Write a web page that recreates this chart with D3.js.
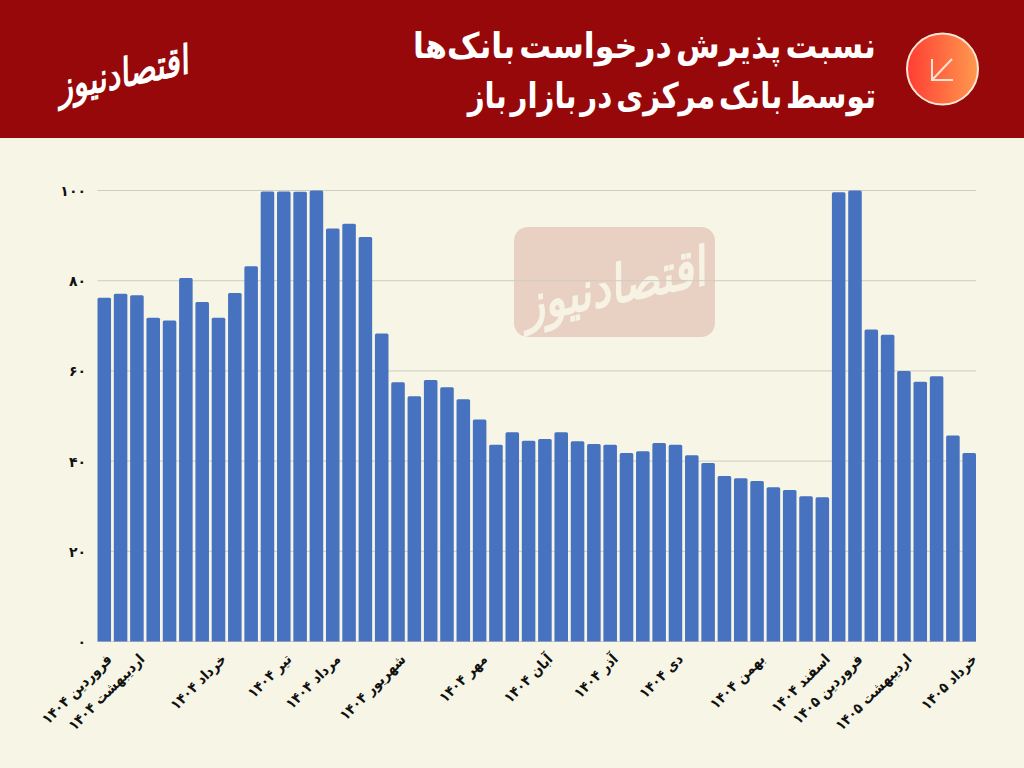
<!DOCTYPE html>
<html lang="fa"><head><meta charset="utf-8">
<script src="https://cdn.jsdelivr.net/npm/d3@7/dist/d3.min.js"></script>
<style>
html,body{margin:0;padding:0;background:#f7f6e6;overflow:hidden}
svg{display:block}
text{font-family:"DejaVu Sans",sans-serif}
</style></head><body>
<svg id="c" width="1024" height="768"></svg>
<script>
const values=[76.2,77.1,76.8,71.8,71.2,80.6,75.3,71.8,77.3,83.2,99.8,99.8,99.7,100,91.6,92.6,89.7,68.3,57.5,54.4,58,56.4,53.7,49.2,43.6,46.4,44.5,44.9,46.4,44.4,43.8,43.6,41.8,42.2,44,43.6,41.3,39.6,36.7,36.2,35.6,34.2,33.6,32.2,32,99.6,100,69.2,68,60,57.6,58.8,45.7,41.8];
const tickIndex=[0,2,7,11,14,18,23,27,31,35,40,44,46,49,53];
const tickLabels=["فروردین ۱۴۰۴","اردیبهشت ۱۴۰۴","خرداد ۱۴۰۴","تیر ۱۴۰۴","مرداد ۱۴۰۴","شهریور ۱۴۰۴","مهر ۱۴۰۴","آبان ۱۴۰۴","آذر ۱۴۰۴","دی ۱۴۰۴","بهمن ۱۴۰۴","اسفند ۱۴۰۴","فروردین ۱۴۰۵","اردیبهشت ۱۴۰۵","خرداد ۱۴۰۵"];
const yTicks=[0,20,40,60,80,100];
const yTickLabels=["۰","۲۰","۴۰","۶۰","۸۰","۱۰۰"];
const titleLines=["نسبت پذیرش درخواست بانک‌ها","توسط بانک مرکزی در بازار باز"];
const logoText="اقتصادنیوز";

const svg=d3.select("#c");
const defs=svg.append("defs");
const g=defs.append("linearGradient").attr("id","badge");
g.append("stop").attr("offset","0").attr("stop-color","#ff3d33");
g.append("stop").attr("offset","1").attr("stop-color","#ff9a4f");

svg.append("rect").attr("width",1024).attr("height",768).attr("fill","#f7f6e6");
svg.append("rect").attr("width",1024).attr("height",138).attr("fill","#960809");

// header
svg.selectAll("text.title").data(titleLines).join("text").attr("class","title")
  .attr("transform",(d,i)=>`translate(876,${58+i*50}) scale(${i?0.92:0.99},1.1)`)
  .attr("direction","rtl").attr("text-anchor","start").attr("word-spacing",-7)
  .attr("font-size",32).attr("font-weight","bold").attr("fill","#fff").text(d=>d);
svg.append("circle").attr("cx",942.5).attr("cy",69).attr("r",35.5)
  .attr("fill","url(#badge)").attr("stroke","#fbe6d8").attr("stroke-width",2);
svg.append("path").attr("d","M952 59 L932 80 M932 59 V80 H953").attr("fill","none")
  .attr("stroke","#fde3d3").attr("stroke-width",2);
svg.append("text").attr("transform","translate(190,73) rotate(-12) scale(0.95,1.2)")
  .attr("direction","rtl").attr("text-anchor","start").attr("font-size",33).attr("font-weight","bold")
  .attr("fill","#fff").attr("font-style","italic").text(logoText);

// watermark
svg.append("rect").attr("x",514).attr("y",227).attr("width",201).attr("height",110).attr("rx",14)
  .attr("fill","#e8d0c2");
svg.append("text").attr("transform","translate(708,284) rotate(-12) scale(0.95,1.15)")
  .attr("direction","rtl").attr("text-anchor","start").attr("font-size",46).attr("font-weight","bold")
  .attr("fill","#f7f3e4").attr("font-style","italic").text(logoText);

// scales
const x=d3.scaleBand().domain(d3.range(values.length)).range([97.5,976]).paddingInner(0.17).paddingOuter(0);
const y=d3.scaleLinear().domain([0,100]).range([641.5,190.5]);

// grid
svg.append("g").selectAll("line").data(yTicks).join("line")
  .attr("x1",97.5).attr("x2",976).attr("y1",d=>y(d)).attr("y2",d=>y(d))
  .attr("stroke","#cfcdbf").attr("stroke-width",1);

// bars
const r=1.5;
svg.append("g").selectAll("path").data(values).join("path")
  .attr("d",(d,i)=>{const a=x(i),w=x.bandwidth(),t=y(d),b=y(0);
    return `M${a} ${b}V${t+r}Q${a} ${t} ${a+r} ${t}H${a+w-r}Q${a+w} ${t} ${a+w} ${t+r}V${b}Z`;})
  .attr("fill","#4672bf");

// y axis
const ya=svg.append("g").attr("transform","translate(86,0.5)")
  .call(d3.axisLeft(y).tickValues(yTicks).tickSize(0).tickPadding(0).tickFormat((d,i)=>yTickLabels[i]));
ya.select(".domain").remove();
ya.selectAll("text").attr("font-size",14).attr("font-weight","bold").attr("fill","#111")
  .style("font-family",'"DejaVu Sans",sans-serif');

// x axis
const labelOf=new Map(tickIndex.map((k,i)=>[k,tickLabels[i]]));
const xa=svg.append("g").attr("transform","translate(0,641.5)")
  .call(d3.axisBottom(x).tickValues(tickIndex).tickSize(0).tickFormat(k=>labelOf.get(k)));
xa.select(".domain").remove();
xa.selectAll("text")
  .attr("transform","translate(5,15) rotate(-45) scale(1,1.12)")
  .attr("x",0).attr("y",0).attr("dy","0.35em")
  .attr("direction","rtl").attr("text-anchor","start")
  .attr("font-size",13).attr("font-weight","bold").attr("fill","#111")
  .style("font-family",'"DejaVu Sans",sans-serif');
</script></body></html>
